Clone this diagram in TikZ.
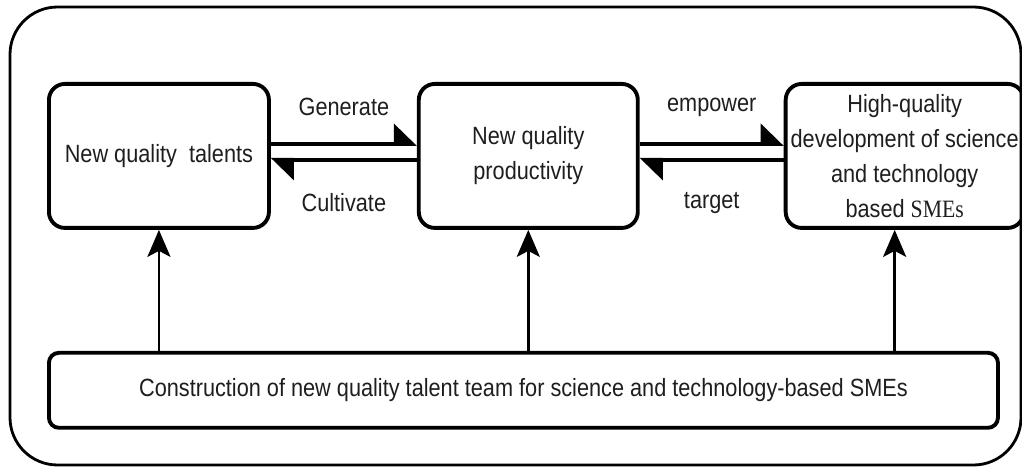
\documentclass[tikz,border=0pt]{standalone}
\usepackage{fontspec}
\setmainfont{Liberation Sans}[FakeStretch=0.87]
\newfontfamily\smefont{Liberation Serif}[FakeStretch=0.87]
\usepackage{xcolor}
\definecolor{cInk}{HTML}{000000}
\definecolor{cText}{HTML}{1E1E1E}
\usepackage{tikz}
\usetikzlibrary{positioning,arrows.meta}
\tikzset{
  node-box/.style={draw=cInk,line width=2.2pt,rounded corners=3.2mm,
    minimum height=28.8mm,minimum width=44mm,align=center,inner sep=1pt,
    text=cText},
  node-base/.style={draw=cInk,line width=2.2pt,rounded corners=2mm,
    minimum height=15mm,minimum width=189.8mm,text=cText},
  frame/.style={draw=cInk,line width=1.6pt,rounded corners=9.5mm},
  arrow-pair/.style={-{Triangle[harpoon,length=4.2mm,width=8mm]},
    line width=2.2pt,draw=cInk},
  arrow-up/.style={-{Stealth[length=5.4mm,width=4.6mm,inset=1.2mm]},
    line width=1.5pt,draw=cInk},
  lbl/.style={text=cText},
}

\begin{document}
\begin{tikzpicture}[node distance=24.2mm and 29mm,
    font=\fontsize{14.2}{19.9}\selectfont]
  \useasboundingbox (0,0) rectangle (20.44,-9.36);
  \draw[frame] (0.2,-0.14) rectangle (20.42,-9.3);
  % top row
  \node[node-box,anchor=north west] (talents) at (0.94,-1.64)
    {New quality\ \ talents};
  \node[node-box,right=29.2mm of talents,minimum width=43.8mm] (prod)
    {New quality\\productivity};
  \node[node-box,right=28.8mm of prod,minimum width=47.6mm] (hq)
    {High-quality\\development of science\\and technology\\based {\smefont SMEs}};
  % base
  \node[node-base,below=of talents.south west,anchor=north west] (team)
    {Construction of new quality talent team for science and technology-based SMEs};
  % links between the top boxes
  \draw[arrow-pair] ([yshift=2.4mm]talents.east) -- ([yshift=2.4mm]prod.west)
    node[lbl,midway,yshift=7.4mm] {Generate};
  \draw[arrow-pair] ([yshift=-0.8mm]prod.west) -- ([yshift=-0.8mm]talents.east)
    node[lbl,midway,yshift=-8.6mm] {Cultivate};
  \draw[arrow-pair] ([yshift=2.4mm]prod.east) -- ([yshift=2.4mm]hq.west)
    node[lbl,midway,yshift=7.4mm] {empower};
  \draw[arrow-pair] ([yshift=-0.8mm]hq.west) -- ([yshift=-0.8mm]prod.east)
    node[lbl,midway,yshift=-8.6mm] {target};
  % support from the base
  \draw[arrow-up] (team.north -| talents.south) -- (talents.south);
  \draw[arrow-up] (team.north -| prod.south) -- (prod.south);
  \draw[arrow-up] ([xshift=-2mm]team.north -| hq.south) -- ([xshift=-2mm]hq.south);
\end{tikzpicture}
\end{document}
